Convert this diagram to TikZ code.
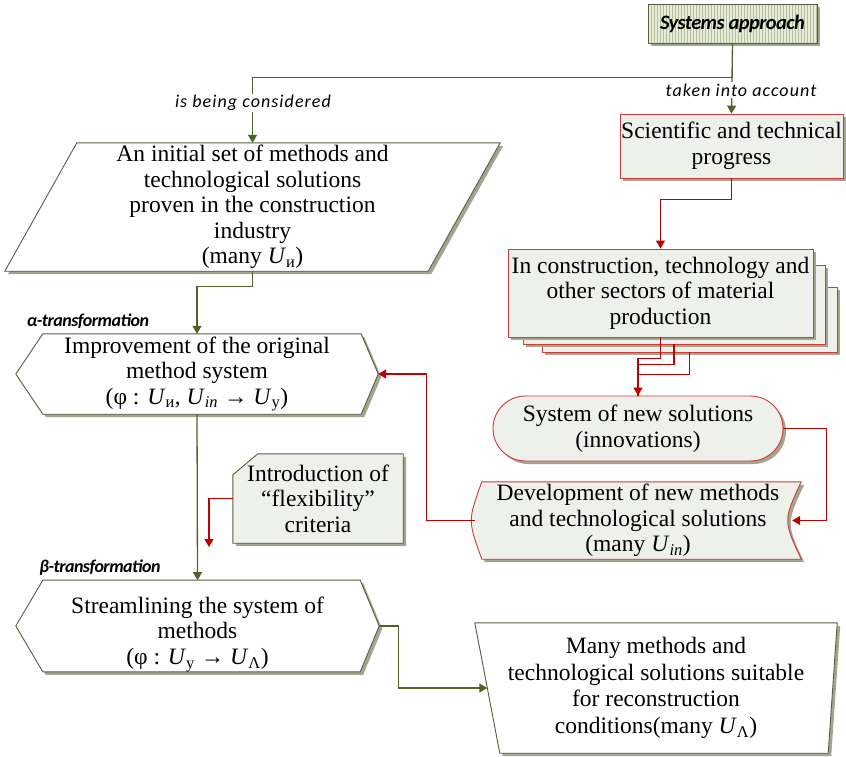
\documentclass[tikz,border=0pt]{standalone}
\usepackage{fontspec}
\setmainfont{Liberation Serif}
\newfontfamily\tagfont[LetterSpace=6]{Carlito}
\newfontfamily\stagefont[LetterSpace=-3]{Carlito}
\usepackage{tikz}
\usetikzlibrary{arrows.meta, positioning, shapes.misc, shadows, patterns, backgrounds}
\definecolor{olivec}{HTML}{4F6228}
\definecolor{shapec}{HTML}{5B5B42}
\definecolor{redc}{HTML}{C00000}
\definecolor{redbd}{HTML}{D03A3A}
\definecolor{boxfill}{HTML}{EEF0EA}
\definecolor{sysfill}{HTML}{E6EBDA}
\definecolor{stripec}{HTML}{B4BF9A}
\definecolor{shadowc}{HTML}{A3A58F}
\newcommand{\Usb}[1]{\textit{U}\textsubscript{#1}}

\begin{document}
\begin{tikzpicture}[x=1pt, y=-1pt,
    txt/.style={font=\fontsize{23.5}{25.5}\selectfont, align=center, inner sep=0pt},
    shade/.style={drop shadow={shadow xshift=3pt, shadow yshift=-3pt, fill=shadowc, opacity=1}},
    outline/.style={draw=shapec, line width=0.9pt, fill=white, shade},
    holder/.style={txt, rectangle},
    redbox/.style={txt, rectangle, draw=redbd, line width=0.9pt, fill=boxfill, shade},
    sysbox/.style={rectangle, draw=shapec, line width=0.9pt, shade,
        preaction={fill=sysfill}, pattern=vertical lines, pattern color=stripec,
        font=\stagefont\bfseries\itshape\fontsize{20.5}{22}\selectfont},
    tag/.style={font=\tagfont\itshape\fontsize{18}{20}\selectfont, fill=white, inner sep=1.5pt},
    stage/.style={font=\stagefont\bfseries\itshape\fontsize{18}{20}\selectfont, inner sep=0pt},
    oline/.style={line width=1.3pt, draw=olivec},
    oarrow/.style={oline, -{Triangle[length=8pt, width=9pt]}},
    rline/.style={line width=1.3pt, draw=redc},
    rarrow/.style={rline, -{Triangle[length=8pt, width=9pt]}}
]
\useasboundingbox (0,0) rectangle (846,756);

\node[sysbox, minimum width=169pt, minimum height=39pt] (sys) at (732.5,23.5) {Systems approach};
\node[redbox, minimum width=223pt, minimum height=64pt] (sci) at (731.5,146) {Scientific and technical\\progress};
\node[holder, minimum width=495pt, minimum height=128pt] (par) at (252.5,207) {An initial set of methods and\\technological solutions\\proven in the construction\\industry\\(many \Usb{и})};

\node[redbox, minimum width=295pt, minimum height=65pt] (ind3) at (689.5,319.5) {};
\node[redbox, minimum width=302pt, minimum height=79pt] (ind2) at (674,304.5) {};
\node[redbox, minimum width=305pt, minimum height=88pt] (ind) at (660.5,293) {In construction, technology and\\other sectors of material\\production};

\node[redbox, rounded rectangle, minimum width=290pt, minimum height=65pt] (sns) at (638,428.5) {System of new solutions\\(innovations)};
\node[holder, minimum width=326pt, minimum height=77pt] (dev) at (638,520.5) {Development of new methods\\and technological solutions\\(many \Usb{\textit{in}})};

\node[holder, minimum width=362pt, minimum height=80pt] (imp) at (197,374) {Improvement of the original\\method system\\(φ : \Usb{и}, \Usb{\textit{in}} → \Usb{у})};
\node[holder, minimum width=170pt, minimum height=89pt] (intro) at (318,498.5) {Introduction of\\“flexibility”\\criteria};
\node[holder, minimum width=363pt, minimum height=82pt] (str) at (197.5,626) {\rule{0pt}{33pt}Streamlining the system of\\methods\\(φ : \Usb{у} → \Usb{Λ})};
\node[holder, font=\fontsize{23.5}{26.5}\selectfont, minimum width=362pt, minimum height=130pt] (fin) at (656,688) {Many methods and\\technological solutions suitable\\for reconstruction\\conditions(many \Usb{Λ})};

\node[stage] (alpha) at (88,321) {α-transformation};
\node[stage] (beta) at (100,568) {β-transformation};

\begin{scope}[on background layer]
\draw[outline] ([xshift=72pt]par.north west) -- (par.north east) -- ([xshift=-72pt]par.south east) -- (par.south west) -- cycle;
\draw[outline] (imp.west) -- ([xshift=27pt]imp.north west) -- ([xshift=-17pt]imp.north east) -- (imp.east) -- ([xshift=-17pt]imp.south east) -- ([xshift=27pt]imp.south west) -- cycle;
\draw[outline] (str.west) -- ([xshift=27pt]str.north west) -- ([xshift=-19pt]str.north east) -- (str.east) -- ([xshift=-19pt]str.south east) -- ([xshift=27pt]str.south west) -- cycle;
\draw[outline] (fin.north west) -- (fin.north east) -- ([xshift=-9pt]fin.south east) -- ([xshift=25pt]fin.south west) -- cycle;
\draw[outline, fill=boxfill] ([yshift=-21pt]intro.north west) -- ([xshift=25pt]intro.north west) -- (intro.north east) -- (intro.south east) -- (intro.south west) -- cycle;
\draw[outline, draw=redbd, fill=boxfill] ([xshift=7pt]dev.north west) -- (dev.north east) .. controls ([xshift=-18pt]dev.east) .. (dev.south east) -- ([xshift=7pt]dev.south west) .. controls ([xshift=-7pt]dev.west) .. ([xshift=7pt]dev.north west) -- cycle;
\end{scope}

\coordinate (crit) at (209,547);

\draw[oarrow] (sys.south) -- (sci.north);
\draw[oarrow] (sys.south) -- ++(0,34) -| (par.north);
\draw[oarrow] (par.south) -- ++(0,15) -| (imp.north);
\draw[oarrow] (imp.south) -- (str.north);
\draw[oarrow] (str.east) -- ++(19,0) |- ([xshift=12.5pt]fin.west);
\draw[rarrow] (sci.south) -- ++(0,21) -| (ind.north);
\draw[rline] (ind.south) -- ++(0,21) -| (sns.north);
\draw[rline] (ind2.south) -- ++(0,20) -| (sns.north);
\draw[rarrow] (ind3.south) -- ++(0,22) -| (sns.north);
\draw[rarrow] (sns.east) -- ++(43,0) |- ([xshift=-9pt]dev.east);
\draw[rarrow] (dev.west) -- ++(-48,0) |- (imp.east);
\draw[rarrow] (intro.west) -| (crit);

\node[tag] (consid) at (253,103) {is being considered};
\node[tag] (account) at (741,90) {taken into account};
\end{tikzpicture}
\end{document}
